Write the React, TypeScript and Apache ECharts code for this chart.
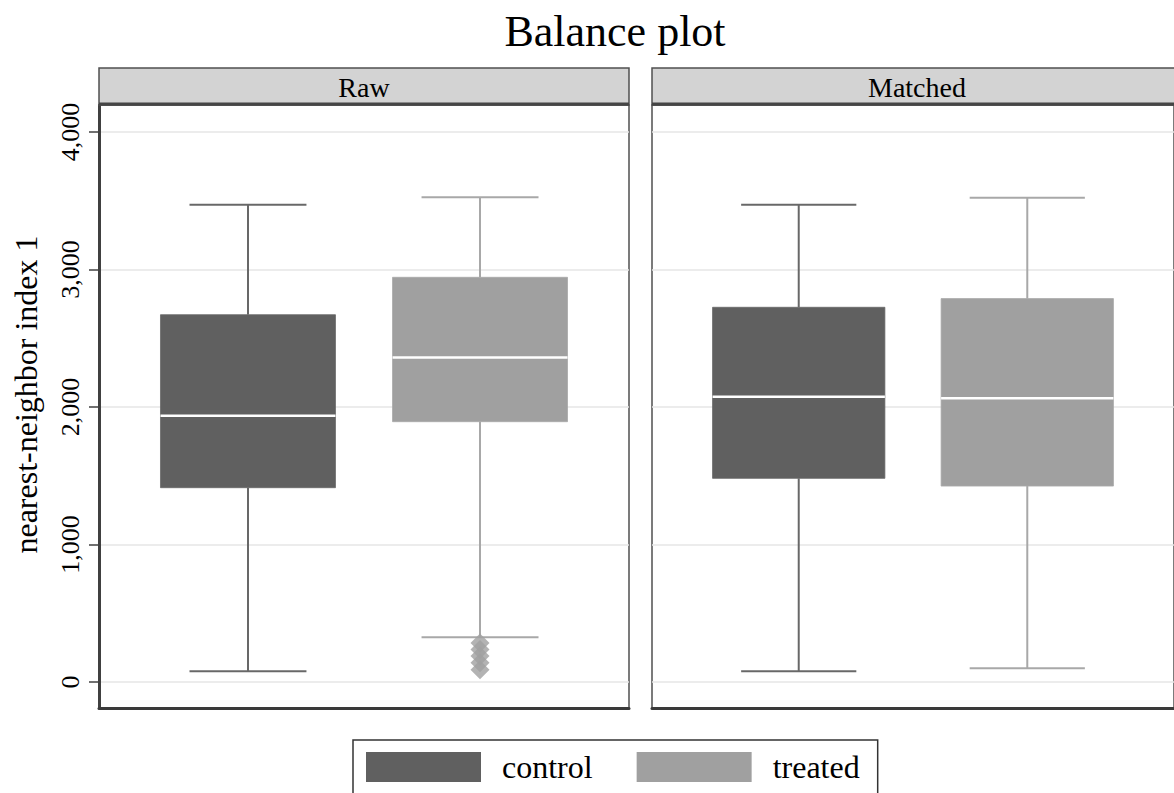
import React, { useEffect, useRef } from 'react';
import * as echarts from 'echarts';

const chartTitle = 'Balance plot';
const panels = ['Raw', 'Matched'];
const groups = ['control', 'treated'];
const yTitle = 'nearest-neighbor index 1';
const yTicks = [0, 1000, 2000, 3000, 4000];
// [lower whisker, Q1, median, Q3, upper whisker]
const rawControl = [78, 1413, 1937, 2671, 3471];
const rawTreated = [325, 1893, 2360, 2943, 3525];
const matchedControl = [78, 1481, 2075, 2725, 3471];
const matchedTreated = [100, 1425, 2063, 2788, 3522];
const rawTreatedOutliers = [284, 236, 190, 140, 90];

const FONT = '"Liberation Serif", "Times New Roman", serif';
const FILL = ['#606060', '#a0a0a0'];
const WHISK = ['#686868', '#a8a8a8'];

function makeRender(fill: string, whisker: string) {
  return (_params: any, api: any) => {
    const x = api.value(0);
    const p = (i: number) => api.coord([x, api.value(i)]);
    const lo = p(1), q1 = p(2), md = p(3), q3 = p(4), hi = p(5);
    const unit = api.size([1, 0])[0];
    const bw = unit * 0.754;
    const cw = unit * 0.504;
    const cx = lo[0];
    const ws = { stroke: whisker, lineWidth: 2 };
    return {
      type: 'group',
      children: [
        { type: 'line', shape: { x1: cx, y1: hi[1], x2: cx, y2: q3[1] }, style: ws },
        { type: 'line', shape: { x1: cx, y1: q1[1], x2: cx, y2: lo[1] }, style: ws },
        { type: 'line', shape: { x1: cx - cw / 2, y1: hi[1], x2: cx + cw / 2, y2: hi[1] }, style: ws },
        { type: 'line', shape: { x1: cx - cw / 2, y1: lo[1], x2: cx + cw / 2, y2: lo[1] }, style: ws },
        {
          type: 'rect',
          shape: { x: cx - bw / 2, y: q3[1], width: bw, height: q1[1] - q3[1] },
          style: { fill, stroke: whisker, lineWidth: 0.8 },
        },
        { type: 'line', shape: { x1: cx - bw / 2, y1: md[1], x2: cx + bw / 2, y2: md[1] }, style: { stroke: '#ffffff', lineWidth: 2.5 } },
      ],
    };
  };
}

const GRID_TOP = 105;
const GRID_H = 603;
const GRID_W = 530;
const LEFTS = [99, 652];

export default function App() {
  const ref = useRef<HTMLDivElement>(null);
  useEffect(() => {
    if (!ref.current) return;
    const chart = echarts.init(ref.current, undefined, { renderer: 'svg' });
    const panelData = [
      [rawControl, rawTreated],
      [matchedControl, matchedTreated],
    ];
    const series: any[] = [];
    panelData.forEach((pd, pi) => {
      pd.forEach((vals, gi) => {
        series.push({
          type: 'custom',
          name: groups[gi],
          xAxisIndex: pi,
          yAxisIndex: pi,
          renderItem: makeRender(FILL[gi], WHISK[gi]),
          data: [[gi, ...vals]],
          encode: { x: 0, y: [1, 2, 3, 4, 5] },
          itemStyle: { color: FILL[gi] },
          z: 3,
          silent: true,
        });
      });
    });
    series.push({
      type: 'scatter',
      name: 'treated outliers',
      xAxisIndex: 0,
      yAxisIndex: 0,
      symbol: 'diamond',
      symbolSize: 19,
      data: rawTreatedOutliers.map((v) => [1, v]),
      itemStyle: { color: FILL[1] },
      z: 4,
      silent: true,
    });

    const graphic: any[] = [
      {
        type: 'text',
        x: 615,
        y: 31,
        style: {
          text: chartTitle,
          fontSize: 44,
          fontFamily: FONT,
          fill: '#000',
          align: 'center',
          verticalAlign: 'middle',
          textAlign: 'center',
          textVerticalAlign: 'middle',
        },
      },
    ];
    panels.forEach((name, pi) => {
      graphic.push({
        type: 'rect',
        shape: { x: LEFTS[pi], y: 68, width: GRID_W, height: GRID_TOP - 68 },
        style: { fill: '#d3d3d3', stroke: '#505050', lineWidth: 1.5 },
        z: 10,
      });
      graphic.push({
        type: 'line',
        shape: { x1: LEFTS[pi], y1: GRID_TOP - 1, x2: LEFTS[pi] + GRID_W, y2: GRID_TOP - 1 },
        style: { stroke: '#454545', lineWidth: 3 },
        z: 11,
      });
      graphic.push({
        type: 'text',
        x: LEFTS[pi] + GRID_W / 2,
        y: 87,
        z: 12,
        style: {
          text: name,
          fontSize: 28,
          fontFamily: FONT,
          fill: '#000',
          align: 'center',
          verticalAlign: 'middle',
          textAlign: 'center',
          textVerticalAlign: 'middle',
        },
      });
    });

    chart.setOption({
      animation: false,
      backgroundColor: '#ffffff',
      graphic,
      grid: LEFTS.map((l) => ({
        left: l,
        top: GRID_TOP,
        width: GRID_W,
        height: GRID_H,
        show: true,
        borderColor: '#505050',
        borderWidth: 1.5,
        backgroundColor: 'transparent',
      })),
      xAxis: LEFTS.map((_, i) => ({
        type: 'value',
        gridIndex: i,
        min: -0.642,
        max: 1.642,
        axisLine: { show: true, onZero: false, lineStyle: { color: '#3a3a3a', width: 3 } },
        axisTick: { show: false },
        axisLabel: { show: false },
        splitLine: { show: false },
      })),
      yAxis: LEFTS.map((_, i) => ({
        type: 'value',
        gridIndex: i,
        min: -189,
        max: 4196,
        name: i === 0 ? yTitle : '',
        nameLocation: 'middle',
        nameRotate: 90,
        nameGap: 57,
        nameTextStyle: { fontSize: 32, fontFamily: FONT, color: '#000', padding: [0, 0, 0, 24] },
        axisLine: { show: i === 0, onZero: false, lineStyle: { color: '#404040', width: 3 } },
        axisTick: {
          show: i === 0,
          customValues: yTicks,
          length: 10,
          lineStyle: { color: '#404040', width: 1.5 },
        },
        axisLabel: {
          show: i === 0,
          customValues: yTicks,
          rotate: 90,
          margin: 16,
          fontSize: 26,
          fontFamily: FONT,
          color: '#000',
        },
        splitLine: { show: true, lineStyle: { color: '#e6e6e6', width: 1.5 } },
      })),
      legend: {
        left: 353,
        top: 740,
        orient: 'horizontal',
        itemWidth: 115,
        itemHeight: 30,
        itemGap: 44,
        padding: [11, 18, 14, 13],
        borderColor: '#333',
        borderWidth: 1.5,
        backgroundColor: '#fff',
        selectedMode: false,
        icon: 'rect',
        textStyle: { fontSize: 32, fontFamily: FONT, color: '#000', padding: [0, 0, 0, 16] },
        data: groups.map((g, gi) => ({ name: g, icon: 'rect', itemStyle: { color: FILL[gi], borderWidth: 0 } })),
      },
      series,
    });
    return () => chart.dispose();
  }, []);
  return (
    <div
      ref={ref}
      style={{ position: 'absolute', left: 0, top: 0, width: 1174, height: 793 }}
    />
  );
}
